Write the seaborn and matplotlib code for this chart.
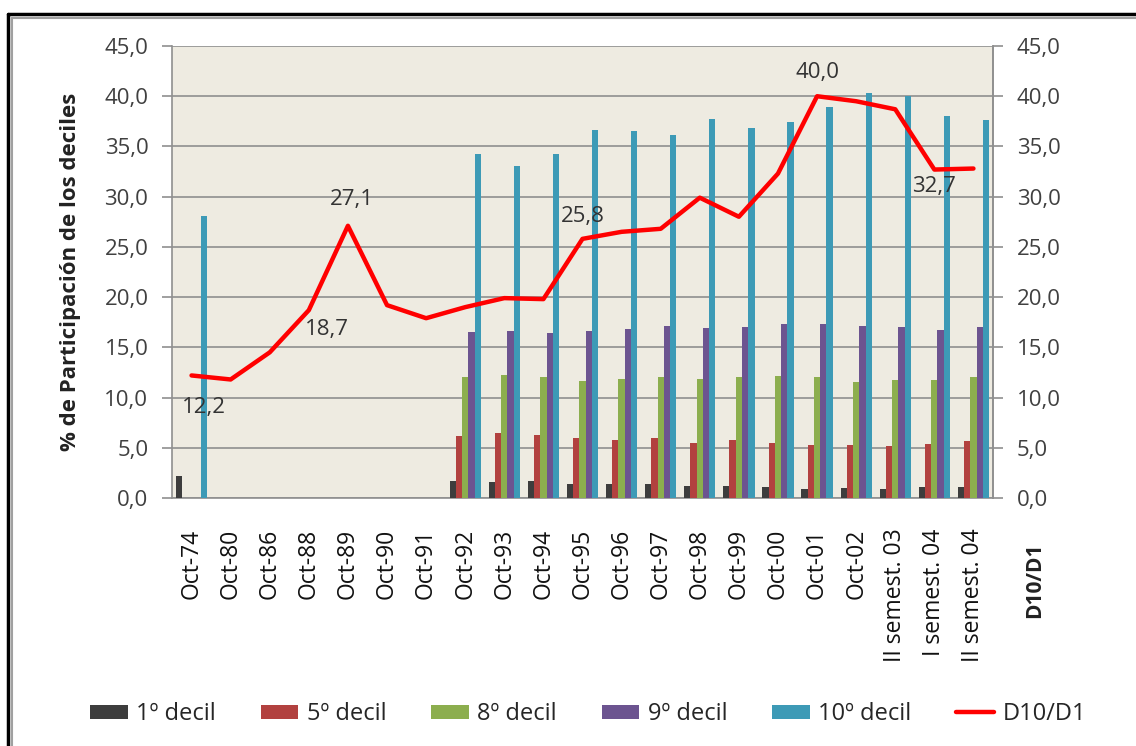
import numpy as np
import pandas as pd
import matplotlib
matplotlib.use("Agg")
import matplotlib.pyplot as plt
import seaborn as sns
from matplotlib.ticker import FuncFormatter, FixedLocator
from matplotlib.lines import Line2D

# Datos
periodos = ["Oct-74", "Oct-80", "Oct-86", "Oct-88", "Oct-89", "Oct-90", "Oct-91",
            "Oct-92", "Oct-93", "Oct-94", "Oct-95", "Oct-96", "Oct-97", "Oct-98",
            "Oct-99", "Oct-00", "Oct-01", "Oct-02", "II semest. 03", "I semest. 04",
            "II semest. 04"]

nan = np.nan
decil_1 = [2.2, nan, nan, nan, nan, nan, nan, 1.7, 1.55, 1.7, 1.35, 1.35, 1.35, 1.2,
           1.2, 1.05, 0.9, 0.95, 0.9, 1.05, 1.05]
decil_5 = [nan, nan, nan, nan, nan, nan, nan, 6.2, 6.45, 6.3, 5.95, 5.8, 5.95, 5.5,
           5.8, 5.5, 5.3, 5.3, 5.2, 5.4, 5.7]
decil_8 = [nan, nan, nan, nan, nan, nan, nan, 12.0, 12.25, 12.0, 11.65, 11.85, 12.0, 11.85,
           12.0, 12.15, 12.0, 11.5, 11.75, 11.75, 12.0]
decil_9 = [nan, nan, nan, nan, nan, nan, nan, 16.5, 16.6, 16.4, 16.6, 16.8, 17.1, 16.9,
           17.0, 17.3, 17.3, 17.1, 17.0, 16.7, 17.0]
decil_10 = [28.1, nan, nan, nan, nan, nan, nan, 34.2, 33.1, 34.2, 36.6, 36.5, 36.1, 37.7,
            36.8, 37.4, 38.9, 40.3, 40.0, 38.0, 37.6]
d10_d1 = [12.2, 11.8, 14.5, 18.7, 27.1, 19.2, 17.9, 19.0, 19.9, 19.8, 25.8, 26.5, 26.8,
          29.9, 28.0, 32.3, 40.0, 39.5, 38.7, 32.7, 32.8]

series = ["1º decil", "5º decil", "8º decil", "9º decil", "10º decil"]
colores = ["#3d3d3d", "#b2413f", "#8cae4e", "#6c5490", "#3d9ab6"]

# etiquetas de datos sobre la línea: indice -> desplazamiento en puntos
etiquetas = {0: (9, -23), 3: (13, -14), 4: (3, 19), 10: (0, 16), 16: (0, 17), 19: (0, -12)}

df = pd.DataFrame({
    "periodo": periodos * 5,
    "serie": sum([[s] * len(periodos) for s in series], []),
    "valor": decil_1 + decil_5 + decil_8 + decil_9 + decil_10,
}).dropna()

sns.set_style("white")
plt.rcParams["font.family"] = ["Open Sans", "DejaVu Sans"]

W, H = 1136, 746
fig = plt.figure(figsize=(W / 100, H / 100), dpi=100)
ax = fig.add_axes([172 / W, 1 - 498 / H, (993 - 172) / W, (498 - 46) / H])
ax.set_facecolor("#eeebe1")

sns.barplot(data=df, x="periodo", y="valor", hue="serie", order=periodos,
            hue_order=series, palette=colores, width=0.8, saturation=1,
            errorbar=None, ax=ax, zorder=3, linewidth=0, edgecolor="none")

handles, labels = ax.get_legend_handles_labels()
if ax.legend_ is not None:
    ax.legend_.remove()

n = len(periodos)
ax.set_xlim(-0.5, n - 0.5)
ax.set_ylim(0, 45)
ax.set_yticks(np.arange(0, 46, 5))
fmt = FuncFormatter(lambda v, p: f"{v:.1f}".replace(".", ","))
ax.yaxis.set_major_formatter(fmt)
ax.grid(axis="y", color="#8f8f8f", lw=1.2, zorder=0)
ax.set_axisbelow(True)

ax.spines["top"].set_visible(False)
for side in ["left", "bottom", "right"]:
    ax.spines[side].set_color("#8f8f8f")
    ax.spines[side].set_linewidth(1.2)

# ticks del eje x: marcas en los límites entre categorías
ax.set_xticks(range(n))
ax.set_xticklabels(periodos, rotation=90, fontsize=16.5, color="#111111")
ax.tick_params(axis="x", length=0, pad=22)
ax.xaxis.set_minor_locator(FixedLocator(np.arange(-0.5, n, 1)))
ax.tick_params(axis="x", which="minor", length=6, color="#8f8f8f", width=1.2)
ax.tick_params(axis="y", length=7, color="#8f8f8f", width=1.2, labelsize=16,
               labelcolor="#404040", pad=10)
ax.set_xlabel("")
ax.set_ylabel("% de Participación de los deciles", fontsize=16, fontweight="bold",
              color="#222222", labelpad=17)

# eje secundario con la relación D10/D1
ax2 = ax.twinx()
x_pos = np.arange(n)
sns.lineplot(x=x_pos, y=d10_d1, ax=ax2, color="#ff0000", lw=3.2, zorder=5)
ax2.set_ylim(0, 45)
ax2.set_xlim(-0.5, n - 0.5)
ax2.set_yticks(np.arange(0, 46, 5))
ax2.yaxis.set_major_formatter(fmt)
ax2.tick_params(axis="y", length=7, color="#8f8f8f", width=1.2, labelsize=16,
                labelcolor="#404040", pad=10)
for side in ["top", "left", "bottom"]:
    ax2.spines[side].set_visible(False)
ax2.spines["right"].set_color("#8f8f8f")
ax2.spines["right"].set_linewidth(1.2)
ax2.set_ylabel("")

for i, off in etiquetas.items():
    ax2.annotate(f"{d10_d1[i]:.1f}".replace(".", ","), (x_pos[i], d10_d1[i]),
                 xytext=off, textcoords="offset points", ha="center", va="center",
                 fontsize=16, color="#333333", zorder=6)

fig.text(1035 / W, 1 - 580 / H, "D10/D1", rotation=90, ha="center", va="center",
         fontsize=15, fontweight="bold", color="#222222")

# leyenda inferior
handles = list(handles) + [Line2D([0], [0], color="#ff0000", lw=3.2)]
labels = list(labels) + ["D10/D1"]
fig.legend(handles, labels, loc="center", bbox_to_anchor=(588 / W, 1 - 714 / H),
           ncol=6, frameon=False, fontsize=17, handlelength=1.6, handleheight=0.55,
           handletextpad=0.35, columnspacing=1.9)

# marco del gráfico
fig.add_artist(Line2D([8 / W, 1], [1 - 14 / H, 1 - 14 / H], color="black", lw=2.5,
                      transform=fig.transFigure))
fig.add_artist(Line2D([8 / W, 8 / W], [0, 1 - 14 / H], color="black", lw=2.5,
                      transform=fig.transFigure))
fig.add_artist(Line2D([12 / W, 1], [1 - 18 / H, 1 - 18 / H], color="#a0a0a0", lw=1.5,
                      transform=fig.transFigure))
fig.add_artist(Line2D([12 / W, 12 / W], [0, 1 - 18 / H], color="#a0a0a0", lw=1.5,
                      transform=fig.transFigure))

fig.savefig("out.png", dpi=100)
